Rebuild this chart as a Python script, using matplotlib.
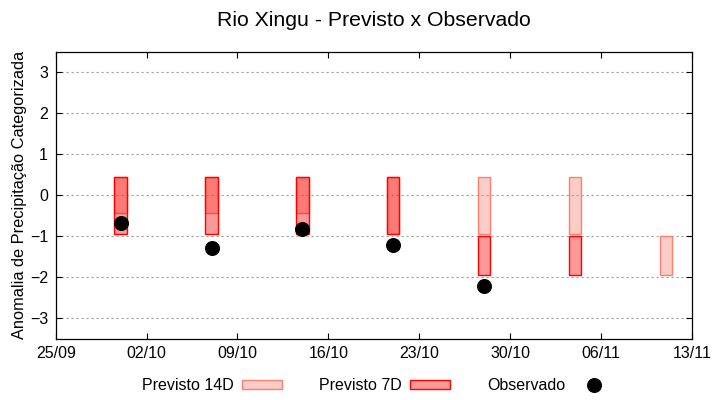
import numpy as np
import matplotlib
matplotlib.use("Agg")
import matplotlib.pyplot as plt
import matplotlib.dates as mdates
from matplotlib.patches import Rectangle
from matplotlib.lines import Line2D
from datetime import datetime

plt.rcParams['font.family'] = ['Liberation Sans', 'DejaVu Sans']

# dates of each forecast (week)
datas = ["30/09", "07/10", "14/10", "21/10", "28/10", "04/11", "11/11"]
# categorized anomaly ranges of each forecast
prev14_baixo = [-0.44, -0.44, -0.44, -0.95, -0.95, -0.95, -1.95]
prev14_cima = [0.44, 0.44, 0.44, 0.44, 0.44, 0.44, -1.0]
prev7_baixo = [-0.95, -0.95, -0.95, -0.95, -1.95, -1.95, np.nan]
prev7_cima = [0.44, 0.44, 0.44, 0.44, -1.0, -1.0, np.nan]
observado = [-0.68, -1.29, -0.83, -1.20, -2.21, np.nan, np.nan]

ticks_x = ["25/09", "02/10", "09/10", "16/10", "23/10", "30/10", "06/11", "13/11"]

def to_date(s):
    d, m = s.split("/")
    return datetime(2024, int(m), int(d))

x = mdates.date2num([to_date(s) for s in datas])
xt = mdates.date2num([to_date(s) for s in ticks_x])

fig = plt.figure(figsize=(7.2, 4.0), dpi=100)
ax = fig.add_axes([0.0774, 0.1525, 0.8836, 0.7185])

largura = 0.95
b14 = np.array(prev14_baixo)
c14 = np.array(prev14_cima)
b7 = np.array(prev7_baixo)
c7 = np.array(prev7_cima)

cor14 = (250/255, 128/255, 114/255, 0.4)
cor7 = (1, 0, 0, 0.4)

ax.bar(x, c14 - b14, bottom=b14, width=largura, color=cor14,
       edgecolor='salmon', linewidth=1.0, zorder=2)
ax.bar(x, c7 - b7, bottom=b7, width=largura, color=cor7,
       edgecolor='red', linewidth=1.0, zorder=3)
ax.plot(x, observado, 'o', color='black', markersize=9.8, zorder=4)

ax.set_xlim(xt[0], xt[-1])
ax.set_ylim(-3.5, 3.5)
ax.set_xticks(xt)
ax.set_xticklabels(ticks_x)
ax.set_yticks([-3, -2, -1, 0, 1, 2, 3])
ax.tick_params(direction='in', top=True, right=True, length=4, width=0.8,
               labelsize=11.5, colors='black')
ax.tick_params(axis='y', pad=5.5)
ax.tick_params(axis='x', pad=5)
ax.grid(axis='y', color='#a0a0a0', linestyle=(0, (2, 2.5)), linewidth=0.8, zorder=1)
for s in ax.spines.values():
    s.set_linewidth(0.9)

ax.set_ylabel("Anomalia de Precipitação Categorizada", fontsize=11.8, labelpad=2)
fig.suptitle("Rio Xingu - Previsto x Observado", fontsize=15.3, x=0.519, y=0.95, va='center')

handles = [
    Rectangle((0, 0), 1, 1, facecolor=cor14, edgecolor='salmon', linewidth=1.0),
    Rectangle((0, 0), 1, 1, facecolor=cor7, edgecolor='red', linewidth=1.0),
    Line2D([], [], marker='o', color='black', linestyle='none', markersize=9.8),
]
fig.legend(handles, ["Previsto 14D", "Previsto 7D", "Observado"], ncol=3,
           loc='center', bbox_to_anchor=(0.525, 0.036), frameon=False,
           markerfirst=False, fontsize=11.5, handlelength=2.5, handleheight=0.45,
           handletextpad=0.5, columnspacing=2.35)

fig.savefig("out.png", dpi=100)
